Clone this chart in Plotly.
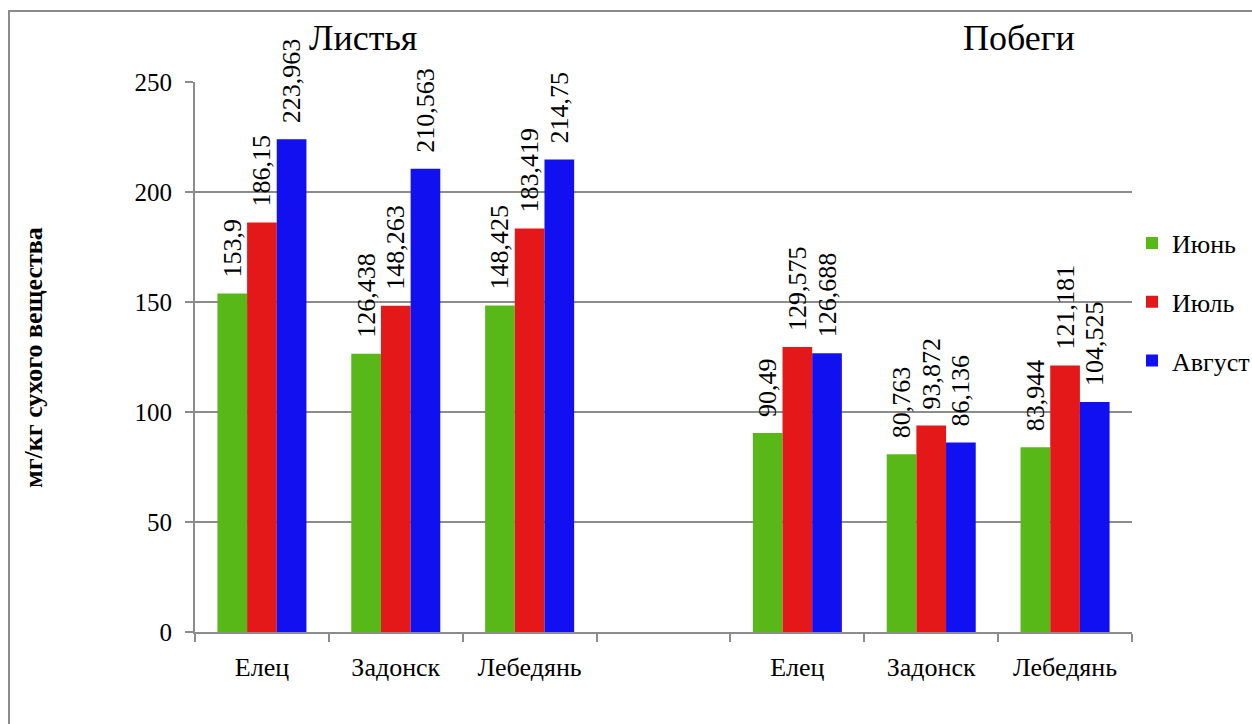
import plotly.graph_objects as go

categories = ["Елец", "Задонск", "Лебедянь", " ", "Елец ", "Задонск ", "Лебедянь "]
tick_labels = ["Елец", "Задонск", "Лебедянь", "", "Елец", "Задонск", "Лебедянь"]
series_names = ["Июнь", "Июль", "Август"]
june = [153.9, 126.438, 148.425, None, 90.49, 80.763, 83.944]
july = [186.15, 148.263, 183.419, None, 129.575, 93.872, 121.181]
august = [223.963, 210.563, 214.75, None, 126.688, 86.136, 104.525]
colors = ["#58B818", "#E41818", "#1010F0"]
group_titles = ["Листья", "Побеги"]
y_title = "мг/кг сухого вещества"

FONT = "Liberation Serif"


def fmt(v):
    if v is None:
        return ""
    return "\u00a0\u00a0" + str(v).replace(".", ",")


fig = go.Figure()
for name, vals, col in zip(series_names, [june, july, august], colors):
    fig.add_trace(go.Bar(
        x=categories, y=vals, name=name, marker_color=col,
        marker_line_width=0,
        text=[fmt(v) for v in vals], textposition="outside", textangle=-90,
        textfont=dict(family=FONT, size=26, color="black"),
        constraintext="none", cliponaxis=False, legendgroup=name,
    ))

fig.update_layout(
    template="none",
    width=1252, height=724,
    margin=dict(l=195, r=120, t=82, b=92, autoexpand=False),
    paper_bgcolor="white", plot_bgcolor="white",
    barmode="group", bargap=0.335, bargroupgap=0,
    font=dict(family=FONT, size=25, color="black"),
    showlegend=True,
    legend=dict(x=1.0, xanchor="left", y=0.75, yanchor="top",
                font=dict(family=FONT, size=26, color="black"),
                tracegroupgap=22, itemclick=False),
    xaxis=dict(
        type="category", categoryorder="array", categoryarray=categories,
        tickmode="array", tickvals=categories, ticktext=tick_labels,
        tickson="boundaries", ticks="outside", ticklen=8, tickwidth=2,
        tickcolor="#8c8c8c", showline=True, linecolor="#8c8c8c", linewidth=2,
        showgrid=False, tickfont=dict(family=FONT, size=26, color="black"),
        fixedrange=True, ticklabelstandoff=11,
    ),
    yaxis=dict(
        range=[0, 250], tickvals=[0, 50, 100, 150, 200, 250],
        ticks="outside", ticklen=8, tickwidth=2, tickcolor="#8c8c8c",
        showline=True, linecolor="#8c8c8c", linewidth=2,
        showgrid=True, gridcolor="#8c8c8c", gridwidth=2, zeroline=False,
        tickfont=dict(family=FONT, size=25, color="black"),
        fixedrange=True, ticklabelstandoff=8,
    ),
)

# chart border
fig.add_shape(type="rect", xref="paper", yref="paper",
              x0=-0.1985, x1=1.3, y0=-0.3, y1=1.129,
              line=dict(color="#8c8c8c", width=2), layer="below")

fig.add_annotation(text="<b>" + y_title + "</b>", xref="paper", yref="paper",
                   x=-0.173, y=0.5, xanchor="center", yanchor="middle",
                   textangle=-90, showarrow=False,
                   font=dict(family=FONT, size=26, color="black"))
for t, xp in zip(group_titles, [0.179, 0.879]):
    fig.add_annotation(text=t, xref="paper", yref="paper", x=xp, y=1.08,
                       xanchor="center", yanchor="middle", showarrow=False,
                       font=dict(family=FONT, size=36, color="black"))

fig.write_html("out.html")
